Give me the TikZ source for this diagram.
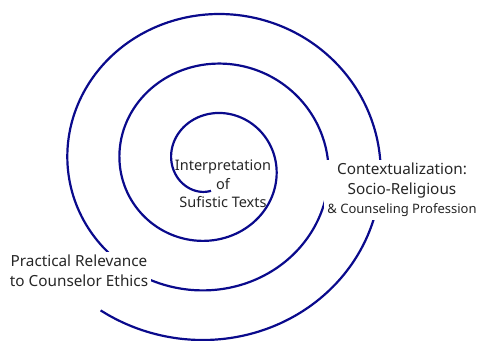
\documentclass[tikz,border=0pt]{standalone}
\usepackage{fontspec}
\setmainfont{Noto Sans}
\definecolor{spiralblue}{RGB}{10,10,140}
\begin{document}
\begin{tikzpicture}[x=1pt,y=-1pt,
  spiral/.style={draw=spiralblue,line width=2.2pt},
  label/.style={font=\fontsize{14.5}{18.5}\selectfont,align=center,text=black!85},
  cover/.style={label,fill=white,inner sep=3pt}]
\useasboundingbox (0,0) rectangle (479,340);
\draw[spiral] plot[domain=0:1116,samples=400,variable=\u,smooth]
  ({211-(26+0.145*\u)*sin(\u)},{164.6+(26.2+0.138*\u)*cos(\u)});
\node[label] (center) at (223,184) {Interpretation\\of\\Sufistic Texts};
\node[cover,font=\fontsize{15.3}{19.5}\selectfont] (context) at (402,190) {Contextualization:\\Socio-Religious\\{\fontsize{13}{19.5}\selectfont \& Counseling Profession}};
\node[cover,font=\fontsize{15.3}{19.5}\selectfont,minimum width=142pt] (practical) at (79,271) {Practical Relevance\\to Counselor Ethics};
\end{tikzpicture}
\end{document}
